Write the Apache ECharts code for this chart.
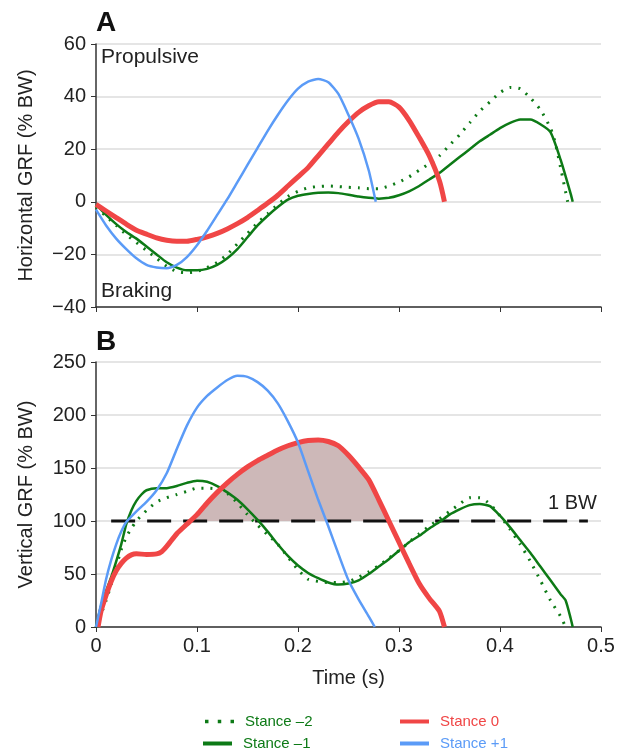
<!DOCTYPE html>
<html>
<head>
<meta charset="utf-8">
<script src="https://cdn.jsdelivr.net/npm/echarts@6/dist/echarts.min.js"></script>
<style>
  html, body { margin: 0; padding: 0; background: #fff; }
  #chart { width: 624px; height: 753px; }
</style>
</head>
<body>
<div id="chart"></div>
<script>
// panel A - horizontal GRF (% BW), [time s, value]
var hStanceM2 = [[0,-2],[0.01,-5.5],[0.02,-9],[0.03,-12.5],[0.04,-15.5],[0.05,-18.5],[0.06,-21.5],[0.07,-24.5],[0.08,-26.5],[0.09,-27],[0.1,-26.5],[0.11,-25],[0.12,-23],[0.13,-20],[0.14,-16],[0.15,-12],[0.16,-8],[0.17,-4.5],[0.18,-1],[0.19,2],[0.2,4],[0.21,5.3],[0.22,5.8],[0.23,6],[0.24,5.8],[0.25,5.5],[0.26,5.3],[0.27,5],[0.28,5],[0.29,6],[0.3,7.5],[0.31,9.5],[0.32,12],[0.33,14.5],[0.34,17.5],[0.35,21.5],[0.36,25.5],[0.37,30],[0.38,34.5],[0.39,38],[0.4,41.5],[0.41,43.5],[0.42,43],[0.43,39.5],[0.44,35],[0.45,28],[0.455,22],[0.46,13],[0.467,0]];
var hStanceM1 = [[0,-1],[0.01,-5],[0.02,-8.5],[0.03,-11.5],[0.04,-14],[0.05,-17],[0.06,-20],[0.07,-23],[0.08,-25],[0.09,-26],[0.1,-26],[0.11,-25.5],[0.12,-24],[0.13,-21.5],[0.14,-18],[0.15,-13.5],[0.16,-9],[0.17,-5.3],[0.18,-2],[0.19,0.8],[0.2,2.3],[0.21,3],[0.22,3.4],[0.23,3.5],[0.24,3.3],[0.25,2.7],[0.26,2],[0.27,1.5],[0.28,1.2],[0.29,1.5],[0.3,2.5],[0.31,4],[0.32,6],[0.33,8.5],[0.34,11],[0.35,14],[0.36,17],[0.37,20],[0.38,23],[0.39,25.5],[0.4,28],[0.41,30],[0.42,31.3],[0.43,31.3],[0.44,29.5],[0.45,26.5],[0.46,16],[0.47,3],[0.472,0]];
var hStance0 = [[0,-1],[0.01,-3.5],[0.02,-6],[0.03,-8.5],[0.04,-10.8],[0.05,-12.3],[0.06,-13.7],[0.07,-14.6],[0.08,-15],[0.09,-15],[0.1,-14.3],[0.11,-13.3],[0.12,-12],[0.13,-10.3],[0.14,-8.3],[0.15,-6],[0.16,-3.3],[0.17,-0.5],[0.18,2.5],[0.19,6],[0.2,9.5],[0.21,13],[0.22,17.5],[0.23,22],[0.24,26.5],[0.25,30.5],[0.26,34],[0.27,36.5],[0.28,38],[0.29,38],[0.3,36],[0.31,31],[0.32,24.5],[0.33,17.5],[0.34,8],[0.345,0]];
var hStanceP1 = [[0,-3],[0.01,-9],[0.02,-14],[0.03,-18],[0.04,-21.5],[0.05,-24],[0.06,-25],[0.07,-25.3],[0.08,-24],[0.09,-21],[0.1,-16.5],[0.11,-11],[0.12,-5],[0.13,1],[0.14,7.5],[0.15,14],[0.16,20.5],[0.17,27],[0.18,33],[0.19,38.5],[0.2,43],[0.21,45.7],[0.22,46.7],[0.23,45.5],[0.24,41],[0.25,33],[0.26,24],[0.27,12],[0.277,0]];

// panel B - vertical GRF (% BW)
var vStanceM2 = [[0,0],[0.005,12],[0.01,25],[0.015,40],[0.02,57],[0.025,73],[0.03,85],[0.035,93],[0.04,100],[0.05,110],[0.06,118],[0.07,122],[0.08,125],[0.09,128],[0.1,131],[0.11,131],[0.12,130],[0.13,126],[0.14,117],[0.15,106],[0.16,96],[0.17,87],[0.18,78],[0.19,66],[0.2,54],[0.21,45],[0.22,43],[0.23,42],[0.24,42],[0.25,43],[0.26,47],[0.27,52],[0.28,58],[0.29,65],[0.3,72],[0.31,80],[0.32,88],[0.33,95],[0.34,102],[0.35,109],[0.36,116],[0.37,122],[0.38,122],[0.39,116],[0.4,105],[0.41,92],[0.42,78],[0.43,62],[0.44,44],[0.45,25],[0.46,10],[0.465,0]];
var vStanceM1 = [[0,0],[0.005,20],[0.01,34],[0.015,47],[0.02,62],[0.025,78],[0.03,97],[0.035,110],[0.04,119],[0.045,125],[0.05,129],[0.06,131],[0.07,131],[0.08,133],[0.09,136],[0.1,138],[0.11,137],[0.12,133],[0.13,127],[0.14,120],[0.15,111],[0.16,101],[0.17,90],[0.18,78],[0.19,67],[0.2,58],[0.21,51],[0.22,46],[0.23,42],[0.24,40],[0.25,41],[0.26,44],[0.27,50],[0.28,57],[0.29,64],[0.3,72],[0.31,80],[0.32,86],[0.33,93],[0.34,99],[0.35,106],[0.36,111],[0.37,115],[0.38,116],[0.39,114],[0.4,105],[0.41,94],[0.42,82],[0.43,70],[0.44,57],[0.45,44],[0.46,31],[0.465,25],[0.47,8],[0.472,0]];
var vStance0 = [[0.002,0],[0.005,15],[0.01,30],[0.015,43],[0.02,53],[0.025,60],[0.03,65],[0.035,68],[0.04,69],[0.05,68.5],[0.06,69],[0.065,71],[0.07,76],[0.08,88],[0.09,97],[0.1,106],[0.11,117],[0.12,127],[0.13,136],[0.14,144],[0.15,151],[0.16,157],[0.17,162],[0.18,167],[0.19,171],[0.2,174],[0.21,176],[0.22,176.5],[0.23,175],[0.24,171],[0.25,162],[0.26,151],[0.27,139],[0.28,120],[0.29,100],[0.3,80],[0.31,60],[0.32,41],[0.33,27],[0.34,15],[0.345,0]];
var vStanceP1 = [[0,0],[0.005,22],[0.01,45],[0.015,63],[0.02,78],[0.025,90],[0.03,99],[0.04,109],[0.05,118],[0.06,129],[0.07,145],[0.08,168],[0.09,190],[0.1,207],[0.11,218],[0.12,226],[0.13,233],[0.14,237],[0.15,236],[0.16,231],[0.17,223],[0.18,211],[0.19,194],[0.2,174],[0.21,147],[0.22,120],[0.23,95],[0.24,69],[0.25,44],[0.26,26],[0.27,10],[0.276,0]];

var bwLevel = 100;
var bwSpan = [0.015, 0.487];
var xTicks = [0, 0.5, 0.1];
var hTicks = [-40, 60, 20];
var vTicks = [0, 250, 50];

// part of stance 0 above 1 BW (shaded impulse)
function aboveLevel(pts, level) {
  var out = [];
  for (var i = 0; i < pts.length; i++) {
    var p = pts[i];
    if (i > 0) {
      var q = pts[i - 1];
      if ((q[1] - level) * (p[1] - level) < 0) {
        var f = (level - q[1]) / (p[1] - q[1]);
        out.push([q[0] + f * (p[0] - q[0]), level]);
      }
    }
    if (p[1] >= level) out.push(p);
  }
  return out;
}

var green = '#0d7a16';
var red = '#f04646';
var blue = '#5b9bf7';
var font = "'Liberation Sans', Arial, sans-serif";
var minus = function (v) { return String(v).replace('-', '\u2212'); };

var myChart = echarts.init(document.getElementById('chart'));

function yAxisOf(idx, ticks, name) {
  return {
    type: 'value', gridIndex: idx, min: ticks[0], max: ticks[1], interval: ticks[2],
    name: name, nameLocation: 'middle', nameGap: 60,
    nameTextStyle: { fontFamily: font, fontSize: 20, color: '#222' },
    axisLine: { show: true, lineStyle: { color: '#333', width: 1.5 } },
    axisTick: { show: true, length: 5, lineStyle: { color: '#333' } },
    axisLabel: { fontFamily: font, fontSize: 20, color: '#222', margin: 10, formatter: minus },
    splitLine: { show: true, lineStyle: { color: '#dcdcdc', width: 1.5 } }
  };
}

function xAxisOf(idx, labels) {
  return {
    type: 'value', gridIndex: idx, min: xTicks[0], max: xTicks[1], interval: xTicks[2],
    name: labels ? 'Time (s)' : '', nameLocation: 'middle', nameGap: 41,
    nameTextStyle: { fontFamily: font, fontSize: 20, color: '#222' },
    axisLine: { show: true, onZero: false, lineStyle: { color: '#333', width: 1.5 } },
    axisTick: { show: true, length: 5, lineStyle: { color: '#333' } },
    axisLabel: { show: labels, fontFamily: font, fontSize: 20, color: '#222', margin: 9 },
    splitLine: { show: false }
  };
}

function lineOf(name, idx, data, color, width, dash, z) {
  return {
    name: name, type: 'line', xAxisIndex: idx, yAxisIndex: idx, data: data,
    showSymbol: false, symbol: 'none', smooth: 0.2, z: z,
    lineStyle: { color: color, width: width, type: dash || 'solid' },
    itemStyle: { color: color }
  };
}

function legendOf(name, color, left, top, icon) {
  return {
    left: left, top: top, padding: 0, itemWidth: 29, itemHeight: 4, icon: icon,
    textStyle: { fontFamily: font, fontSize: 15, color: color, padding: [0, 0, 0, 6] },
    data: [name]
  };
}

var dots = [2, 7];
var solidIcon = 'rect';
var dotIcon = 'path://M0,0h3v3h-3zM11,0h3v3h-3zM22,0h3v3h-3z';

myChart.setOption({
  animation: false,
  grid: [
    { left: 96, right: 23, top: 44, height: 263 },
    { left: 96, right: 23, top: 362, height: 265 }
  ],
  xAxis: [xAxisOf(0, false), xAxisOf(1, true)],
  yAxis: [
    yAxisOf(0, hTicks, 'Horizontal GRF (% BW)'),
    yAxisOf(1, vTicks, 'Vertical GRF (% BW)')
  ],
  legend: [
    legendOf('Stance \u20132', green, 205, 714, dotIcon),
    legendOf('Stance \u20131', green, 203, 736, solidIcon),
    legendOf('Stance 0', red, 400, 714, solidIcon),
    legendOf('Stance +1', blue, 400, 736, solidIcon)
  ],
  graphic: [
    { type: 'text', left: 96, top: 9, style: { text: 'A', font: 'bold 28px ' + font, fill: '#111' } },
    { type: 'text', left: 96, top: 328, style: { text: 'B', font: 'bold 28px ' + font, fill: '#111' } },
    { type: 'text', left: 101, top: 47, style: { text: 'Propulsive', font: '21px ' + font, fill: '#222' } },
    { type: 'text', left: 101, top: 281, style: { text: 'Braking', font: '21px ' + font, fill: '#222' } },
    { type: 'text', left: 548, top: 493, style: { text: '1 BW', font: '20px ' + font, fill: '#222' } }
  ],
  series: [
    lineOf('Stance \u20132', 0, hStanceM2, green, 3, dots, 3),
    lineOf('Stance \u20131', 0, hStanceM1, green, 2.5, 'solid', 4),
    lineOf('Stance 0', 0, hStance0, red, 5, 'solid', 5),
    lineOf('Stance +1', 0, hStanceP1, blue, 2.5, 'solid', 6),
    {
      name: 'impulse', type: 'line', xAxisIndex: 1, yAxisIndex: 1,
      data: aboveLevel(vStance0, bwLevel), showSymbol: false, symbol: 'none',
      smooth: 0.2, z: 1,
      lineStyle: { width: 0 },
      areaStyle: { color: '#cdb8b8', opacity: 1, origin: bwLevel }
    },
    {
      name: '1 BW', type: 'line', xAxisIndex: 1, yAxisIndex: 1,
      data: [[bwSpan[0], bwLevel], [bwSpan[1], bwLevel]], showSymbol: false, symbol: 'none', z: 2,
      lineStyle: { color: '#111', width: 3, type: [24, 12] }
    },
    lineOf('Stance \u20132', 1, vStanceM2, green, 3, dots, 3),
    lineOf('Stance \u20131', 1, vStanceM1, green, 2.5, 'solid', 4),
    lineOf('Stance 0', 1, vStance0, red, 5, 'solid', 5),
    lineOf('Stance +1', 1, vStanceP1, blue, 2.5, 'solid', 6)
  ]
});

window.addEventListener('resize', function () { myChart.resize(); });
</script>
</body>
</html>
